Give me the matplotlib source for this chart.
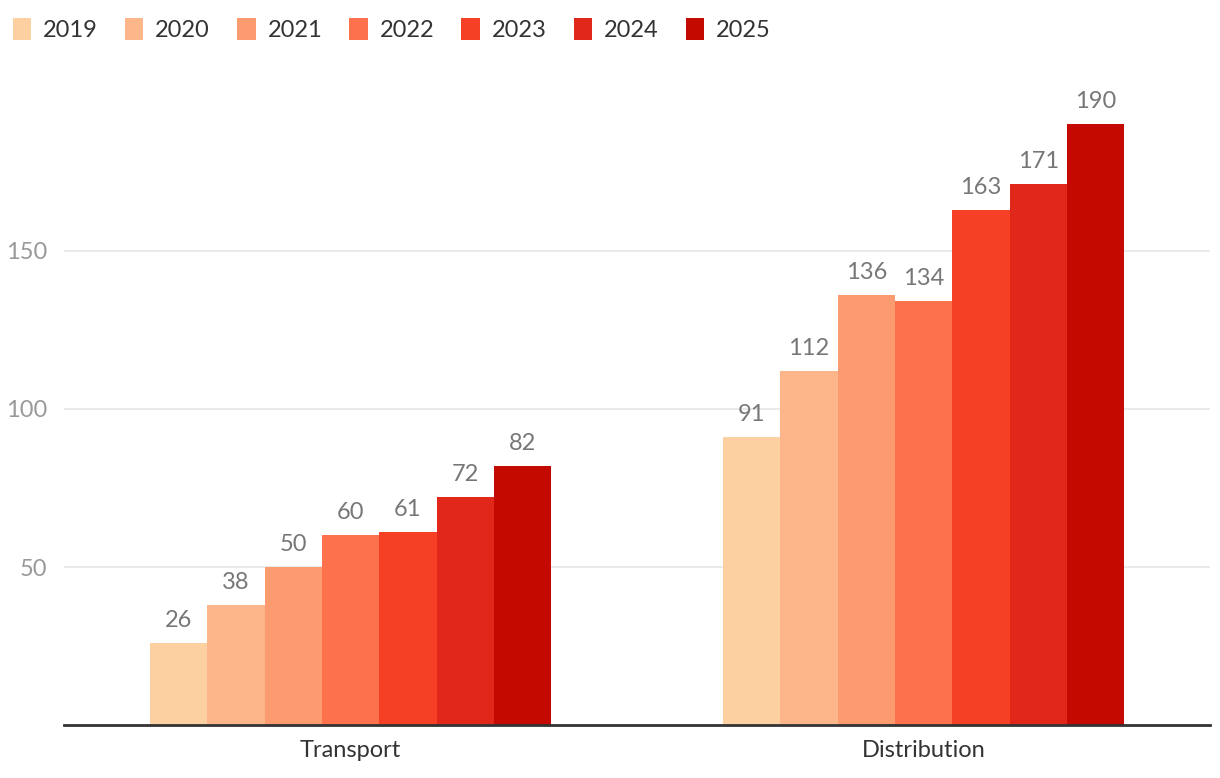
import numpy as np
import matplotlib.pyplot as plt

plt.rcParams['font.family'] = ['Lato', 'DejaVu Sans']

categories = ["Transport", "Distribution"]
years = ["2019", "2020", "2021", "2022", "2023", "2024", "2025"]
transport = [26, 38, 50, 60, 61, 72, 82]
distribution = [91, 112, 136, 134, 163, 171, 190]
colors = ["#FDD0A2", "#FDB68A", "#FC9B6F", "#FD714D", "#F54026", "#E0271A", "#C40A00"]

fig = plt.figure(figsize=(12.2, 7.78), dpi=100)
ax = fig.add_axes([0.0525, 0.068, 0.9395, 0.829])

x = np.arange(len(categories))
bw = 0.1
for i, yr in enumerate(years):
    vals = [transport[i], distribution[i]]
    pos = x - 0.3 + i * bw
    ax.bar(pos, vals, width=bw, color=colors[i], label=yr, zorder=2)
    for p, v in zip(pos, vals):
        ax.text(p, v + 3.8, str(v), ha='center', va='bottom', fontsize=17, color='#777777')

ax.set_xlim(-0.5, 1.5)
ax.set_ylim(0, 204)
ax.set_yticks([50, 100, 150])
ax.set_xticks(x)
ax.set_xticklabels(categories, fontsize=17, color='#333333')
ax.tick_params(axis='x', length=0, pad=11)
ax.tick_params(axis='y', length=0, labelsize=17, labelcolor='#999999', pad=12)
ax.grid(axis='y', color='#e6e6e6', linewidth=1.2, zorder=0)
for s in ['top', 'right', 'left']:
    ax.spines[s].set_visible(False)
ax.spines['bottom'].set_color('#333333')
ax.spines['bottom'].set_linewidth(2)

fig.legend(loc='upper left', bbox_to_anchor=(-0.004, 1.0), ncol=7, frameon=False,
           fontsize=17, handlelength=0.78, handleheight=1.1, handletextpad=0.5,
           columnspacing=1.15, labelcolor='#333333', borderpad=0.25)

fig.savefig("out.png", dpi=100)
